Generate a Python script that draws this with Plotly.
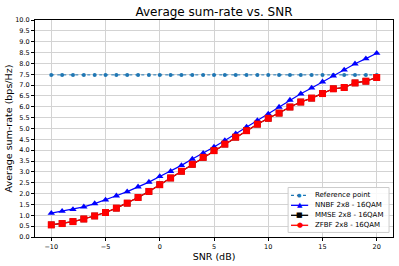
import plotly.graph_objects as go

snr = list(range(-10, 21))
ref_rate = [7.47] * 31
nnbf = [1.10, 1.19, 1.27, 1.39, 1.54, 1.71, 1.90, 2.09, 2.31, 2.53, 2.79, 3.03, 3.30, 3.59, 3.86,
        4.15, 4.45, 4.76, 5.07, 5.37, 5.67, 5.99, 6.31, 6.60, 6.87, 7.15, 7.43, 7.70, 7.98, 8.22, 8.47]
mmse = [0.56, 0.62, 0.71, 0.83, 0.97, 1.13, 1.33, 1.56, 1.82, 2.10, 2.41, 2.72, 3.03, 3.35, 3.67,
        3.98, 4.28, 4.60, 4.90, 5.20, 5.47, 5.71, 5.99, 6.22, 6.40, 6.61, 6.83, 6.89, 7.10, 7.18, 7.35]
zfbf = list(mmse)

names = ["Reference point", "NNBF 2x8 - 16QAM", "MMSE 2x8 - 16QAM", "ZFBF 2x8 - 16QAM"]
yticks = [i * 0.5 for i in range(21)]
xticks = [-10, -5, 0, 5, 10, 15, 20]

fig = go.Figure()
fig.add_trace(go.Scatter(x=snr, y=ref_rate, mode="lines+markers", name=names[0], showlegend=False,
                         line=dict(color="#1f77b4", width=1, dash="dot"),
                         marker=dict(color="#1f77b4", size=4, symbol="circle")))
fig.add_trace(go.Scatter(x=snr, y=nnbf, mode="lines+markers", name=names[1], showlegend=False,
                         line=dict(color="#0000ff", width=1.2),
                         marker=dict(color="#0000ff", size=6.5, symbol="triangle-up")))
fig.add_trace(go.Scatter(x=snr, y=mmse, mode="lines+markers", name=names[2], showlegend=False,
                         line=dict(color="black", width=1.2),
                         marker=dict(color="black", size=6.5, symbol="square")))
fig.add_trace(go.Scatter(x=snr, y=zfbf, mode="lines+markers", name=names[3], showlegend=False,
                         line=dict(color="#ff0000", width=1.2),
                         marker=dict(color="#ff0000", size=7, symbol="square")))

# compact legend (matplotlib-style), built from shapes + text annotations
leg_style = [("#1f77b4", "dot", "●", 5), ("#0000ff", "solid", "▲", 7),
             ("black", "solid", "■", 7), ("#ff0000", "solid", "●", 7)]
shapes = [dict(type="rect", xref="paper", yref="paper", x0=0.707, x1=0.989, y0=0.021, y1=0.228,
               line=dict(color="#cccccc", width=1), fillcolor="rgba(255,255,255,0.85)", layer="above")]
annotations = []
rows = [0.192, 0.146, 0.100, 0.054]
for name, (c, d, g, gs), yy in zip(names, leg_style, rows):
    shapes.append(dict(type="line", xref="paper", yref="paper", x0=0.715, x1=0.763, y0=yy, y1=yy,
                       line=dict(color=c, width=1.3, dash=d), layer="above"))
    annotations.append(dict(xref="paper", yref="paper", x=0.739, y=yy, text=g, showarrow=False,
                            xanchor="center", yanchor="middle", font=dict(size=gs, color=c)))
    annotations.append(dict(xref="paper", yref="paper", x=0.777, y=yy, text=name, showarrow=False,
                            xanchor="left", yanchor="middle", font=dict(size=7, color="black")))

fig.update_layout(
    width=399, height=266,
    margin=dict(l=35, r=6, t=20, b=28.5, autoexpand=False),
    paper_bgcolor="white", plot_bgcolor="white",
    font=dict(family="DejaVu Sans", color="black"),
    title=dict(text="Average sum-rate vs. SNR", xref="paper", x=0.5, xanchor="center",
               yref="container", y=0.957, yanchor="middle", font=dict(size=12)),
    showlegend=False,
    shapes=shapes, annotations=annotations,
)
fig.update_xaxes(range=[-11.5, 21.5], tickvals=xticks, tickfont=dict(size=6.5), automargin=False,
                 showgrid=True, gridcolor="#d3d3d3", gridwidth=1, zeroline=False,
                 showline=True, linecolor="black", linewidth=1, mirror=True,
                 ticks="outside", ticklen=3, tickcolor="black",
                 title=dict(text="SNR (dB)", font=dict(size=9.5), standoff=3))
fig.update_yaxes(range=[0, 10], tickvals=yticks, ticktext=[f"{v:.1f}" for v in yticks],
                 tickfont=dict(size=6.5), automargin=False,
                 showgrid=True, gridcolor="#d3d3d3", gridwidth=1, zeroline=False,
                 showline=True, linecolor="black", linewidth=1, mirror=True,
                 ticks="outside", ticklen=3, tickcolor="black",
                 title=dict(text="Average sum-rate (bps/Hz)", font=dict(size=9.5), standoff=0))

fig.write_html("out.html", config={"displayModeBar": False},
               post_script="document.body.style.margin='0';")
